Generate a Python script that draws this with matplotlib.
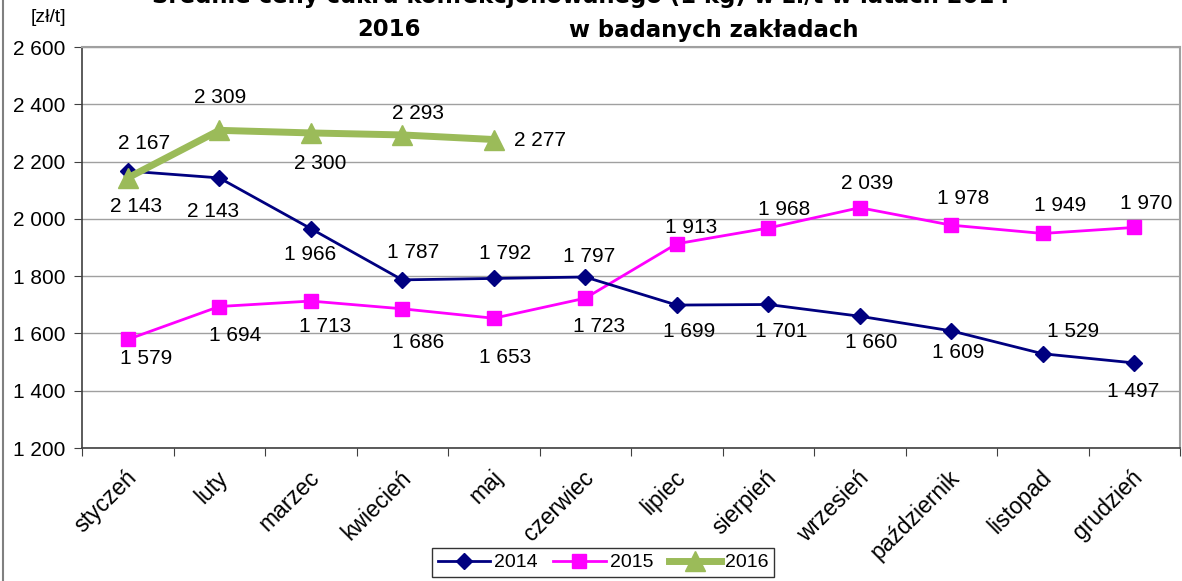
import matplotlib
matplotlib.use("Agg")
import matplotlib.pyplot as plt
from matplotlib.lines import Line2D
from matplotlib.ticker import FuncFormatter
import matplotlib.transforms as mtransforms

months = ["styczeń", "luty", "marzec", "kwiecień", "maj", "czerwiec",
          "lipiec", "sierpień", "wrzesień", "październik", "listopad", "grudzień"]
v2014 = [2167, 2143, 1966, 1787, 1792, 1797, 1699, 1701, 1660, 1609, 1529, 1497]
v2015 = [1579, 1694, 1713, 1686, 1653, 1723, 1913, 1968, 2039, 1978, 1949, 1970]
v2016 = [2143, 2309, 2300, 2293, 2277]

# label offsets in pixels (dx, dy)
off2014 = [(16, 28), (-6, -34), (-1, -26), (11, 27), (11, 25), (4, 21),
           (12, -26), (13, -27), (11, -26), (7, -22), (30, 22), (-1, -29)]
off2015 = [(18, -19), (16, -29), (14, -25), (16, -34), (11, -39), (14, -28),
           (14, 16), (16, 19), (7, 24), (12, 27), (17, 28), (12, 24)]
off2016 = [(8, -29), (1, 33), (9, -31), (16, 21), (46, -1)]

plt.rcParams['font.family'] = ['Liberation Sans', 'DejaVu Sans']

W, H = 1182, 581
fig = plt.figure(figsize=(W / 100, H / 100), dpi=100)
ax = fig.add_axes([82 / W, 1 - 448 / H, (1180 - 82) / W, (448 - 47) / H])

x = list(range(len(months)))
ax.plot(x, v2014, color='#000080', lw=2, marker='D', ms=8, label='2014', zorder=4)
ax.plot(x, v2015, color='#FF00FF', lw=2, marker='s', ms=10, label='2015', zorder=3)
ax.plot(list(range(len(v2016))), v2016, color='#9BBB59', lw=5, marker='^', ms=14,
        label='2016', zorder=5)

def fmt(v):
    return f"{v:,}".replace(",", " ")

for vals, offs in ((v2014, off2014), (v2015, off2015), (v2016, off2016)):
    for i, (v, o) in enumerate(zip(vals, offs)):
        ax.annotate(fmt(v), (i, v), xytext=o, textcoords='offset pixels',
                    ha='center', va='center', fontsize=15, color='black', zorder=6)

ax.set_xlim(-0.5, len(months) - 0.5)
ax.set_ylim(1200, 2600)
ax.set_yticks(range(1200, 2601, 200))
ax.yaxis.set_major_formatter(FuncFormatter(lambda v, p: fmt(int(v))))
ax.grid(axis='y', color='#A0A0A0', lw=1)
ax.set_axisbelow(True)
ax.set_xticks([i - 0.5 for i in range(len(months) + 1)])
ax.set_xticklabels([])
ax.set_xticks(x, minor=True)
ax.set_xticklabels(months, minor=True, rotation=45, ha='right', va='top',
                   rotation_mode='anchor', fontsize=16.5)
ax.tick_params(axis='x', which='minor', length=0, pad=13)
ax.tick_params(axis='x', which='major', length=6, color='#404040')
ax.tick_params(axis='y', length=6, labelsize=15, color='#404040', pad=6)
offset = mtransforms.ScaledTranslation(-3 / 100, 0, fig.dpi_scale_trans)
for lbl in ax.get_xticklabels(minor=True):
    lbl.set_transform(lbl.get_transform() + offset)

for side in ('top', 'right'):
    ax.spines[side].set_color('#A0A0A0')
    ax.spines[side].set_linewidth(1.5)
for side in ('left', 'bottom'):
    ax.spines[side].set_color('#404040')
    ax.spines[side].set_linewidth(1.2)

leg = ax.legend(loc='upper center', bbox_to_anchor=(603 / W, 1 - 548 / H),
                bbox_transform=fig.transFigure, ncol=3, fontsize=14,
                frameon=True, fancybox=False, edgecolor='black',
                handlelength=2.7, columnspacing=0.8, borderpad=0.3,
                handletextpad=0.2, borderaxespad=0)
leg.get_frame().set_linewidth(1)

fig.text(48 / W, 1 - 18 / H, "[zł/t]", ha='center', va='center', fontsize=14)
fig.text(590 / W, 1 + 5 / H,
         "Średnie ceny cukru konfekcjonowanego (1 kg) w zł/t w latach 2014 -",
         ha='center', va='center', fontsize=16.4, fontweight='bold',
         family=['DejaVu Sans'])
fig.text(389 / W, 1 - 30 / H, "2016", ha='center', va='center', fontsize=16.4,
         fontweight='bold', family=['DejaVu Sans'])
fig.text(714 / W, 1 - 30 / H, "w badanych zakładach", ha='center', va='center',
         fontsize=16.4, fontweight='bold', family=['DejaVu Sans'])

fig.add_artist(Line2D([3 / W, 3 / W], [0, 1], transform=fig.transFigure,
                      color='#808080', lw=1.5))

fig.savefig("out.png", dpi=100)
